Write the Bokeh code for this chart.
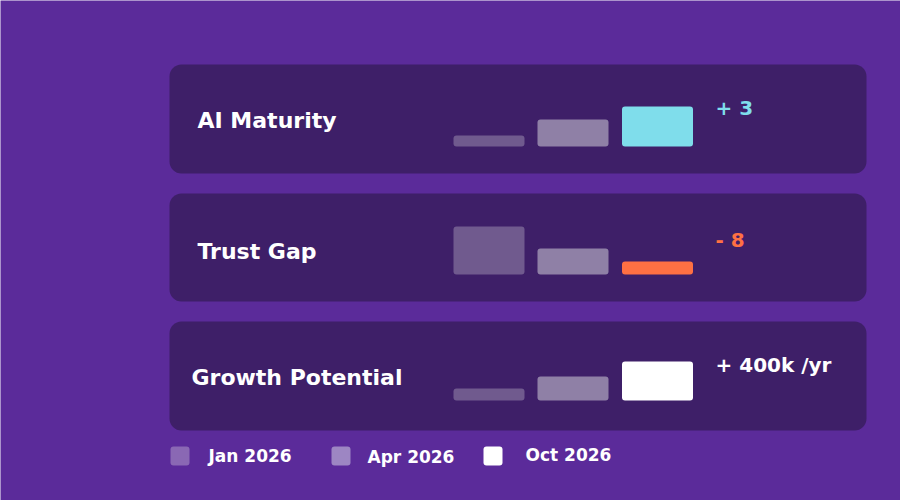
from bokeh.plotting import figure
from bokeh.models import Range1d, ColumnDataSource
from bokeh.core.properties import value
from bokeh.embed import file_html
from bokeh.resources import INLINE

# ---- data ----
metrics = ["AI Maturity", "Trust Gap", "Growth Potential"]
periods = ["Jan 2026", "Apr 2026", "Oct 2026"]
jan_values = [11, 48, 12]
apr_values = [27, 26, 24]
oct_values = [40, 13, 39]
delta_labels = ["+ 3", "- 8", "+ 400k /yr"]

# ---- styles / layout ----
BG = "#5B2B9A"
PANEL = "#3E1F68"
JAN_COLOR = "#705A8E"
APR_COLOR = "#8F80A6"
ACCENTS = ["#7FDDEB", "#FF7043", "#FFFFFF"]
LEG_COLORS = ["#8A68B4", "#9D86C3", "#FFFFFF"]
FONT = "DejaVu Sans"

panel_left, panel_right = 169, 866
panel_tops = [64, 193, 321]
panel_bottoms = [173, 301, 430]
baselines = [146, 274, 400]
label_x = [197, 197, 191]
label_y = [120, 251, 377]
delta_x = 715
delta_y = [107, 239, 364]
bar_centers = [488.5, 572.5, 657]
bar_width = 71

p = figure(width=900, height=500, x_range=Range1d(0, 900), y_range=Range1d(500, 0),
           output_backend="svg", toolbar_location=None, min_border=0)
p.axis.visible = False
p.grid.visible = False
p.outline_line_color = None
p.background_fill_color = BG
p.border_fill_color = BG

# panels
p.quad(left=[panel_left] * 3, right=[panel_right] * 3, top=panel_tops, bottom=panel_bottoms,
       fill_color=PANEL, line_color=None, border_radius=12)

# bars
series = [jan_values, apr_values, oct_values]
for j, vals in enumerate(series):
    colors = [JAN_COLOR] * 3 if j == 0 else ([APR_COLOR] * 3 if j == 1 else ACCENTS)
    src = ColumnDataSource(dict(
        x=[bar_centers[j]] * 3,
        bottom=baselines,
        top=[b - v for b, v in zip(baselines, vals)],
        color=colors,
    ))
    p.vbar(x="x", width=bar_width, bottom="bottom", top="top", fill_color="color",
           line_color=None, border_radius=3, source=src)

# metric labels
p.text(x=label_x, y=label_y, text=metrics, text_color="#FFFFFF", text_font=value(FONT),
       text_font_style="bold", text_font_size="22px", text_baseline="middle", text_align="left")

# delta labels
p.text(x=[delta_x] * 3, y=delta_y, text=delta_labels, text_color=ACCENTS, text_font=value(FONT),
       text_font_style="bold", text_font_size="20px", text_baseline="middle", text_align="left")

# legend
leg_sq_x = [179.5, 340.5, 492.5]
leg_sq_y = 455.5
leg_text_x = [208, 367, 525]
leg_text_y = [455, 456, 454]
p.rect(x=leg_sq_x, y=[leg_sq_y] * 3, width=19, height=19, fill_color=LEG_COLORS,
       line_color=None, border_radius=3)
p.text(x=leg_text_x, y=leg_text_y, text=periods, text_color="#FFFFFF", text_font=value(FONT),
       text_font_style="bold", text_font_size="17px", text_baseline="middle", text_align="left")

open("out.html", "w").write(file_html(p, INLINE))
